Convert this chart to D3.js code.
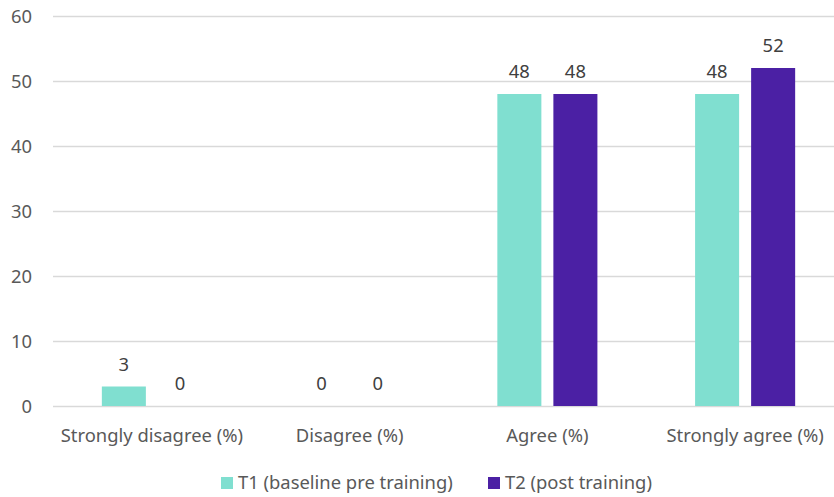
<!DOCTYPE html>
<html>
<head>
<meta charset="utf-8">
<script src="https://cdn.jsdelivr.net/npm/d3@7"></script>
<style>
  html, body { margin: 0; padding: 0; background: #fff; }
  svg text { font-family: "Noto Sans", "Open Sans", sans-serif; fill: #595959; }
</style>
</head>
<body>
<svg id="chart" width="834" height="497"></svg>
<script>
const categories = ["Strongly disagree (%)", "Disagree (%)", "Agree (%)", "Strongly agree (%)"];
const seriesNames = ["T1 (baseline pre training)", "T2 (post training)"];
const t1Values = [3, 0, 48, 48];
const t2Values = [0, 0, 48, 52];
const yTicks = [0, 10, 20, 30, 40, 50, 60];
const colors = ["#80DFD0", "#4B20A4"];

const svg = d3.select("#chart");
const width = 834, height = 497;
const fontSize = 18.4;

const x0 = d3.scaleBand().domain(categories).range([53, 844]).paddingInner(0).paddingOuter(0);
const bw = x0.bandwidth();
const groupW = bw * 0.506;
const x1 = d3.scaleBand().domain(seriesNames)
  .range([(bw - groupW) / 2, (bw + groupW) / 2])
  .paddingInner(0.2143).paddingOuter(0);
const y = d3.scaleLinear().domain([0, 60]).range([406, 16]);

// gridlines
svg.append("g")
  .selectAll("line")
  .data(yTicks)
  .join("line")
  .attr("x1", 53).attr("x2", width)
  .attr("y1", d => Math.round(y(d)) + 0.5).attr("y2", d => Math.round(y(d)) + 0.5)
  .attr("stroke", "#d9d9d9").attr("stroke-width", 1.3);

// y tick labels
const yAxis = d3.axisLeft(y).tickValues(yTicks).tickSize(0).tickPadding(0);
const yg = svg.append("g").attr("transform", "translate(32,0)").call(yAxis);
yg.select(".domain").remove();
yg.selectAll("text").attr("font-size", fontSize).attr("font-family", null).attr("fill", null)
  .attr("dy", "0.35em");

// bars
const rows = categories.map((c, i) => ({ cat: c, vals: [t1Values[i], t2Values[i]] }));
const groups = svg.append("g").selectAll("g")
  .data(rows).join("g")
  .attr("transform", d => `translate(${x0(d.cat)},0)`);

groups.selectAll("rect")
  .data(d => d.vals.map((v, j) => ({ name: seriesNames[j], v, j })))
  .join("rect")
  .attr("x", d => x1(d.name))
  .attr("width", x1.bandwidth())
  .attr("y", d => y(d.v))
  .attr("height", d => y(0) - y(d.v))
  .attr("fill", d => colors[d.j]);

groups.selectAll("text")
  .data(d => d.vals.map((v, j) => ({ name: seriesNames[j], v, j })))
  .join("text")
  .attr("x", d => x1(d.name) + x1.bandwidth() / 2)
  .attr("y", d => y(d.v) - 16)
  .attr("text-anchor", "middle")
  .attr("font-size", fontSize)
  .style("fill", "#404040")
  .text(d => d.v);

// x axis labels
const xAxis = d3.axisBottom(x0).tickSize(0).tickPadding(0);
const xg = svg.append("g").attr("transform", "translate(0,442)").call(xAxis);
xg.select(".domain").remove();
xg.selectAll("text").attr("font-size", fontSize).attr("font-family", null).attr("fill", null)
  .attr("dy", 0);

// legend
const legendItems = [
  { name: seriesNames[0], color: colors[0], x: 221 },
  { name: seriesNames[1], color: colors[1], x: 488 }
];
const lg = svg.append("g").selectAll("g").data(legendItems).join("g")
  .attr("transform", d => `translate(${d.x},0)`);
lg.append("rect").attr("x", 0).attr("y", 477).attr("width", 12).attr("height", 12)
  .attr("fill", d => d.color);
lg.append("text").attr("x", 17).attr("y", 489).attr("font-size", fontSize).text(d => d.name);
</script>
</body>
</html>
